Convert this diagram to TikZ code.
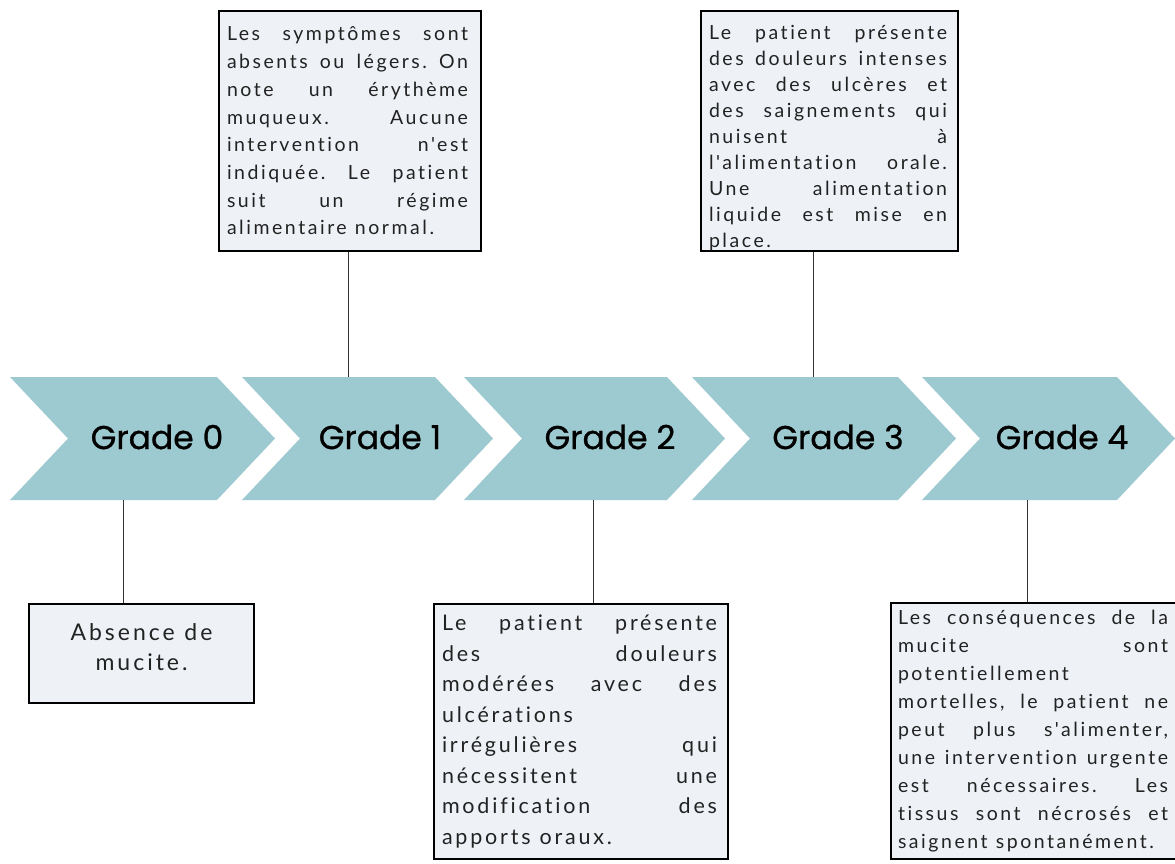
\documentclass[tikz,border=0pt]{standalone}
\usepackage{fontspec}
\setmainfont{Lato}[LetterSpace=13, Ligatures={TeXOff,NoCommon}]
\newfontfamily\gradefont{Poppins}[FakeBold=0.8]
\definecolor{chevfill}{HTML}{9DCAD0}
\definecolor{boxfill}{HTML}{EEF2F7}
\definecolor{txt}{HTML}{222222}
\definecolor{connc}{HTML}{333333}
\newlength\bw
\newcommand\jl[1]{\hbox to \bw{#1}}
\newcommand\gp{\hfill}
\newcommand\ws{\hspace{0.42em}}
\newcommand\noind{\parindent=0pt\relax}
\newcommand\chevron[2]{\fill[chevfill] (#1,377) -- (#2,377) -- (#2+58,438.5) -- (#2,500) -- (#1,500) -- (#1+58,438.5) -- cycle;}
\tikzset{
  grade/.style={font=\gradefont\fontsize{33}{36}\selectfont, text=black, inner sep=0pt},
  infobox/.style={draw=black, line width=2pt, fill=boxfill, text=txt,
    inner ysep=0pt, inner xsep=0pt, anchor=north west},
  conn/.style={draw=connc, line width=1pt}
}
\begin{document}
\begin{tikzpicture}[x=1pt,y=-1pt]
\useasboundingbox (0,0) rectangle (1175,863);
\fill[white] (0,0) rectangle (1175,863);
% chevrons
\chevron{10}{217}
\chevron{242}{435}
\chevron{464}{667}
\chevron{692}{898}
\chevron{922}{1117}
\node[grade] (g0) at (157,437) {Grade 0};
\node[grade] (g1) at (380,437) {Grade 1};
\node[grade] (g2) at (610,437) {Grade 2};
\node[grade] (g3) at (838,437) {Grade 3};
\node[grade] (g4) at (1062,437) {Grade 4};
% anchor points on chevrons
\coordinate (c0) at (123,500);
\coordinate (c1) at (348,377);
\coordinate (c2) at (593,500);
\coordinate (c3) at (813,377);
\coordinate (c4) at (1027,500);
% boxes
\node[infobox, minimum width=262pt, minimum height=240pt, text width=246pt,
  font=\fontsize{19.5}{27.7}\selectfont] (b1) at (218,10) {\noind\setlength\bw{241pt}%
\jl{Les\gp symptômes\gp sont}
\jl{absents\gp ou\gp légers.\gp On}
\jl{note\gp un\gp érythème}
\jl{muqueux.\gp Aucune}
\jl{intervention\gp n'est}
\jl{indiquée.\gp Le\gp patient}
\jl{suit\gp un\gp régime}
alimentaire\ws normal.\par};
\node[infobox, minimum width=257pt, minimum height=240pt, text width=241pt,
  font=\fontsize{19.5}{26}\selectfont] (b3) at (700,10) {\noind\setlength\bw{238pt}%
\vspace*{2pt}
\jl{Le\gp patient\gp présente}
\jl{des\gp douleurs\gp intenses}
\jl{avec\gp des\gp ulcères\gp et}
\jl{des\gp saignements\gp qui}
\jl{nuisent\gp à}
\jl{l'alimentation\gp orale.}
\jl{Une\gp alimentation}
\jl{liquide\gp est\gp mise\gp en}
place.\par};
\node[infobox, minimum width=225pt, minimum height=99pt, text width=210pt,
  font=\fontsize{23}{30}\selectfont] (b0) at (28,603) {\noind\centering Absence\ws de\\mucite.\par\vspace{12pt}};
\node[infobox, minimum width=294pt, minimum height=255pt, text width=278pt,
  font=\fontsize{21.5}{30.5}\selectfont] (b2) at (433,603) {\noind\setlength\bw{275pt}%
\jl{Le\gp patient\gp présente}
\jl{des\gp douleurs}
\jl{modérées\gp avec\gp des}
ulcérations\par
\jl{irrégulières\gp qui}
\jl{nécessitent\gp une}
\jl{modification\gp des}
apports\ws oraux.\par};
\node[infobox, minimum width=288pt, minimum height=256pt, text width=274pt,
  font=\fontsize{19.5}{28}\selectfont] (b4) at (890,602) {\noind\setlength\bw{270pt}%
\jl{Les\gp conséquences\gp de\gp la}
\jl{mucite\gp sont}
potentiellement\par
\jl{mortelles,\gp le\gp patient\gp ne}
\jl{peut\gp plus\gp s'alimenter,}
\jl{une\gp intervention\gp urgente}
\jl{est\gp nécessaires.\gp Les}
\jl{tissus\gp sont\gp nécrosés\gp et}
saignent\ws spontanément.\par};
% connectors
\draw[conn] (c0) -- (c0 |- b0.north);
\draw[conn] (c1) -- (c1 |- b1.south);
\draw[conn] (c2) -- (c2 |- b2.north);
\draw[conn] (c3) -- (c3 |- b3.south);
\draw[conn] (c4) -- (c4 |- b4.north);
\end{tikzpicture}
\end{document}
